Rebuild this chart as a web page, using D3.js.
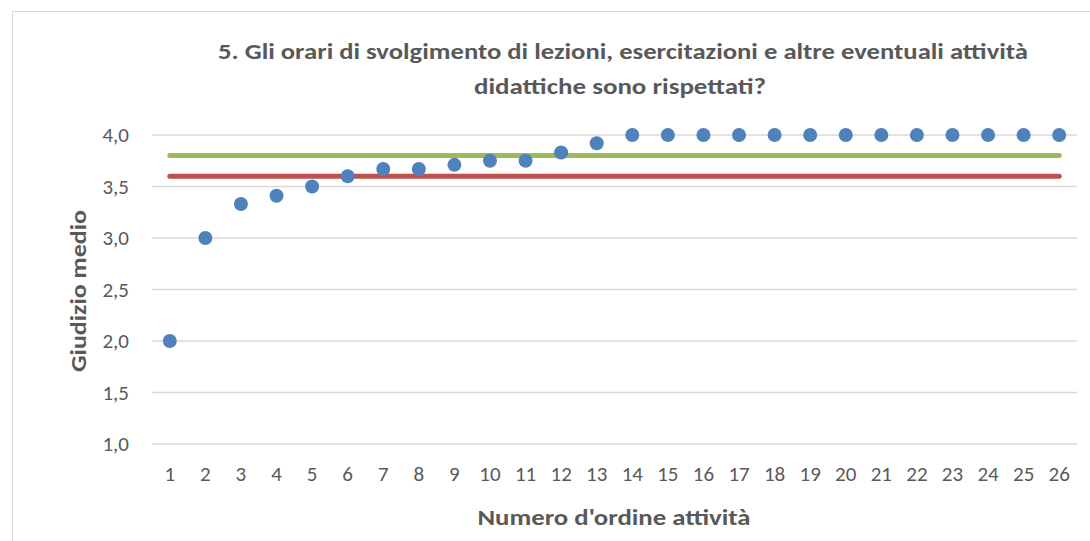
<!DOCTYPE html>
<html><head><meta charset="utf-8">
<script src="https://cdn.jsdelivr.net/npm/d3@7"></script>
<style>body{margin:0;background:#fff;}svg{display:block;font-family:Carlito,Calibri,Lato,sans-serif;}</style>
</head><body>
<svg id="c" width="1090" height="541"></svg>
<script>
const categories = d3.range(1, 27).map(String);
const values = [2.0, 3.0, 3.33, 3.41, 3.5, 3.6, 3.67, 3.67, 3.71, 3.75, 3.75, 3.83, 3.92, 4.0, 4.0, 4.0, 4.0, 4.0, 4.0, 4.0, 4.0, 4.0, 4.0, 4.0, 4.0, 4.0];
const greenLine = 3.8;
const redLine = 3.6;
const yTicks = [1.0, 1.5, 2.0, 2.5, 3.0, 3.5, 4.0];
const titleLines = ["5. Gli orari di svolgimento di lezioni, esercitazioni e altre eventuali attività", "didattiche sono rispettati?"];
const xTitle = "Numero d'ordine attività";
const yTitle = "Giudizio medio";

const FF = "Carlito,Calibri,Lato,sans-serif";
const svg = d3.select("#c");
svg.append("rect").attr("x", 12.5).attr("y", 11.5).attr("width", 1090).attr("height", 541).attr("fill", "#fff").attr("stroke", "#d9d9d9");

const m = {l: 152, r: 1077, t: 135, b: 444};
const x = d3.scaleBand().domain(categories).range([m.l, m.r]);
const y = d3.scaleLinear().domain([1, 4]).range([m.b, m.t]);
const cx = d => x(d) + x.bandwidth() / 2;

const fmt = v => d3.format(".1f")(v).replace(".", ",");

// gridlines
svg.append("g").selectAll("line").data(yTicks).join("line")
  .attr("x1", m.l).attr("x2", m.r).attr("y1", d => y(d)).attr("y2", d => y(d))
  .attr("stroke", "#d9d9d9").attr("stroke-width", 1.3);

// y axis labels
const ya = svg.append("g").attr("transform", `translate(${m.l},0)`)
  .call(d3.axisLeft(y).tickValues(yTicks).tickFormat(fmt).tickSize(0).tickPadding(23));
ya.select(".domain").remove();
ya.selectAll("text").attr("fill", "#595959").attr("font-size", 21).style("font-family", FF);

// x axis labels
const xa = svg.append("g").attr("transform", `translate(0,${m.b})`)
  .call(d3.axisBottom(x).tickSize(0).tickPadding(22));
xa.select(".domain").remove();
xa.selectAll("text").attr("fill", "#595959").attr("font-size", 21).style("font-family", FF);

// reference lines
const refLine = (v, col) => svg.append("line")
  .attr("x1", cx(categories[0])).attr("x2", cx(categories[categories.length - 1]))
  .attr("y1", y(v)).attr("y2", y(v))
  .attr("stroke", col).attr("stroke-width", 5).attr("stroke-linecap", "round");
refLine(greenLine, "#9bbb59");
refLine(redLine, "#c0504d");

// points
svg.append("g").selectAll("circle").data(values).join("circle")
  .attr("cx", (d, i) => cx(categories[i])).attr("cy", d => y(d)).attr("r", 7)
  .attr("fill", "#4f81bd");

// titles
const bold = (tx, ty, txt, len, rot) => {
  const t = svg.append("text").attr("text-anchor", "middle")
    .attr("font-size", 22).attr("font-weight", "bold").attr("fill", "#595959")
    .attr("textLength", len).attr("lengthAdjust", "spacingAndGlyphs").text(txt);
  if (rot) t.attr("transform", `translate(${tx},${ty}) rotate(-90)`);
  else t.attr("x", tx).attr("y", ty);
  return t;
};
bold(623, 59, titleLines[0], 810);
bold(620, 94, titleLines[1], 292);
bold(614, 525, xTitle, 273);
bold(86, 291, yTitle, 162, true);
</script>
</body></html>
